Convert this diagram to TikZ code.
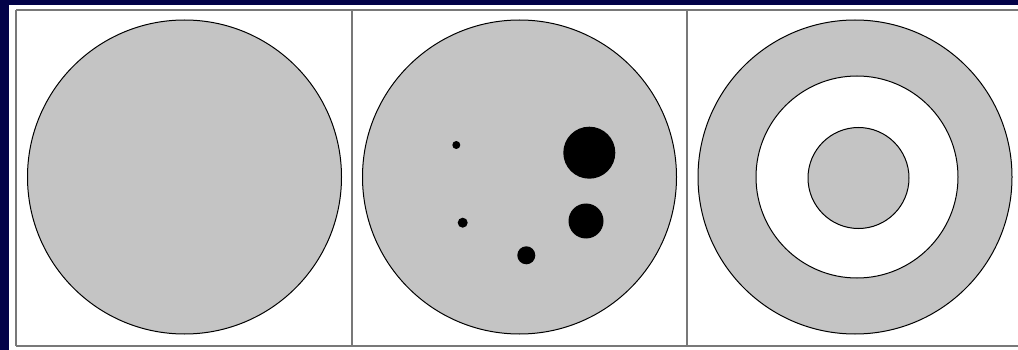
\documentclass[tikz,border=0pt]{standalone}
\usepackage{xcolor}
\definecolor{navy}{RGB}{2,2,72}
\definecolor{disc}{RGB}{196,196,196}
\definecolor{frame}{RGB}{120,120,120}

\begin{document}
\begin{tikzpicture}[x=1pt,y=-1pt]
\useasboundingbox (0,0) rectangle (1018,350);
\fill[navy] (0,0) rectangle (1018,350);
\fill[white] (8.5,5) rectangle (1018,350);
\draw[frame, line width=2pt] (16,9.8)--(1018,9.8);
\draw[frame, line width=2pt] (16,9.8)--(16,346);
\draw[frame, line width=2pt] (16,346)--(1018,346);
\foreach \x in {352,687} {
  \draw[frame, line width=2pt] (\x,9.8)--(\x,346);
}
\foreach \x in {184.5,519.5,855} {
  \filldraw[fill=disc, draw=black, line width=1pt] (\x,177) circle (157);
}
\filldraw[fill=white, draw=black, line width=1pt] (857,177) circle (101);
\filldraw[fill=disc, draw=black, line width=1pt] (858.5,178) circle (50.5);
\foreach \x/\y/\r in {456.3/145/4, 462.7/222.7/5, 526.3/255.3/9, 589.3/152.7/26, 586/221/17.5} {
  \fill[black] (\x,\y) circle (\r);
}
\end{tikzpicture}
\end{document}
